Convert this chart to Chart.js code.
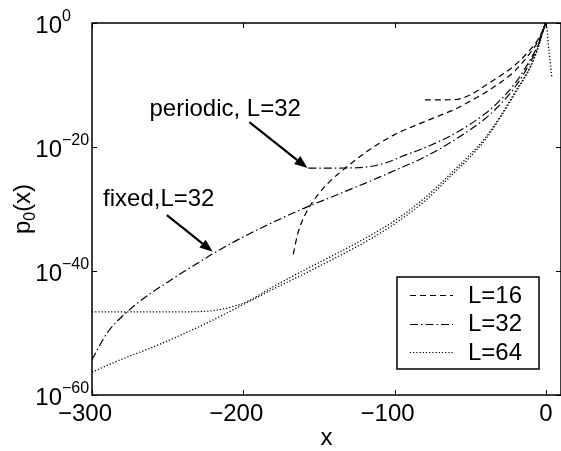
<!DOCTYPE html>
<html>
<head>
<meta charset="utf-8">
<script src="https://cdn.jsdelivr.net/npm/chart.js@4/dist/chart.umd.min.js"></script>
<style>
  body { margin: 0; background: #fff; }
  #wrap { width: 561px; height: 451px; }
</style>
</head>
<body>
<div id="wrap"><canvas id="myChart"></canvas></div>
<script>
// axis ticks
var xTicks = [-300, -200, -100, 0];
var yTickExps = [0, -20, -40, -60];
var legendLabels = ['L=16', 'L=32', 'L=64'];

// curves: x and log10 p0(x)
var fixed16X = [-167, -164, -161, -158, -154, -150, -145, -140, -135, -130, -120, -110, -100, -90, -80, -70, -60, -50, -40, -30, -20, -10, -5, 0];
var fixed16Log = [-37.3, -34.0, -31.9, -30.4, -28.8, -27.5, -26.1, -24.9, -23.9, -22.9, -21.0, -19.4, -18.0, -16.9, -15.9, -14.9, -13.9, -12.6, -11.2, -9.6, -7.6, -4.7, -2.9, 0];

var periodic16X = [-80, -70, -60, -55, -50, -45, -40, -30, -20, -10, -5, 0];
var periodic16Log = [-12.4, -12.4, -12.35, -12.1, -11.6, -10.9, -10.1, -8.5, -6.7, -4.2, -2.6, 0];

var fixed32X = [-300, -290, -280, -270, -260, -250, -240, -230, -220, -200, -180, -160, -140, -120, -100, -80, -60, -40, -30, -20, -10, -5, 0];
var fixed32Log = [-54.3, -50.0, -47.3, -45.2, -43.4, -41.8, -40.2, -38.7, -37.2, -34.5, -32.1, -29.9, -27.9, -25.9, -23.8, -21.6, -18.8, -15.4, -13.1, -10.2, -6.2, -3.6, 0];

var periodic32X = [-157, -140, -125, -115, -105, -95, -85, -75, -60, -40, -30, -20, -10, -5, 0];
var periodic32Log = [-23.4, -23.4, -23.35, -23.1, -22.5, -21.5, -20.6, -19.6, -17.8, -14.6, -12.4, -9.6, -5.8, -3.4, 0];

var fixed64X = [-300, -280, -260, -240, -220, -200, -180, -160, -140, -120, -100, -80, -60, -50, -40, -30, -20, -10, -5, 0, 2, 4];
var fixed64Log = [-56.3, -54.2, -52.3, -50.2, -47.9, -45.4, -42.9, -40.5, -38.0, -35.4, -32.4, -28.7, -24.0, -21.6, -18.8, -15.2, -11.2, -7.0, -3.9, 0, -4.4, -8.9];

var periodic64X = [-300, -250, -225, -215, -205, -198, -180, -160, -140, -120, -100, -80, -60, -50, -40, -30, -20, -10, -5, 0];
var periodic64Log = [-46.6, -46.6, -46.5, -46.2, -45.6, -45.0, -42.5, -39.9, -37.4, -34.8, -31.9, -28.2, -23.6, -21.2, -18.5, -15.0, -11.0, -6.9, -3.8, 0];

var FONT = '"Liberation Sans", Arial, Helvetica, sans-serif';
var dashStyles = [[6, 4], [8, 3, 1.5, 3], [1.2, 2]];
var lineWidths = [1.2, 1.2, 1.3];

function toPoints(xs, logs) {
    return xs.map(function (x, i) { return { x: x, y: Math.pow(10, logs[i]) }; });
}

function line(label, xs, logs, style) {
    return {
        label: label,
        data: toPoints(xs, logs),
        borderColor: '#000',
        borderWidth: lineWidths[style],
        borderDash: dashStyles[style],
        pointRadius: 0,
        fill: false,
        cubicInterpolationMode: 'monotone'
    };
}

// annotation: text anchor, arrow tail, arrow tip (data coords, log10 for y)
var notes = [
    { text: 'periodic, L=32', tx: -262, ty: -14.0, ax: -196, ay: -16.0, bx: -157.6, by: -23.4 },
    { text: 'fixed,L=32', tx: -292.7, ty: -28.5, ax: -250.5, ay: -31.0, bx: -220.2, by: -36.9 }
];

var decor = {
    id: 'decor',
    afterDraw: function (chart) {
        var ctx = chart.ctx, a = chart.chartArea;
        var xs = chart.scales.x, ys = chart.scales.y;
        ctx.save();
        ctx.strokeStyle = '#000';
        ctx.fillStyle = '#000';

        // frame
        ctx.lineWidth = 1.5;
        ctx.strokeRect(a.left, a.top, a.right - a.left, a.bottom - a.top);

        // ticks
        ctx.lineWidth = 1;
        ctx.beginPath();
        xTicks.forEach(function (v) {
            var px = Math.round(xs.getPixelForValue(v)) + 0.5;
            ctx.moveTo(px, a.bottom); ctx.lineTo(px, a.bottom - 5);
            ctx.moveTo(px, a.top); ctx.lineTo(px, a.top + 5);
        });
        yTickExps.forEach(function (e) {
            var py = Math.round(ys.getPixelForValue(Math.pow(10, e))) + 0.5;
            ctx.moveTo(a.left, py); ctx.lineTo(a.left + 5, py);
            ctx.moveTo(a.right, py); ctx.lineTo(a.right - 5, py);
        });
        ctx.stroke();

        // x tick labels: digits centred on tick, minus hangs left
        ctx.font = '24px ' + FONT;
        ctx.textBaseline = 'alphabetic';
        ctx.textAlign = 'right';
        xTicks.forEach(function (v) {
            var px = xs.getPixelForValue(v);
            var digits = String(Math.abs(v));
            var s = (v < 0 ? '\u2212' : '') + digits;
            ctx.fillText(s, px + ctx.measureText(digits).width / 2, a.bottom + 26);
        });

        // y tick labels 10^e
        yTickExps.forEach(function (e) {
            var py = ys.getPixelForValue(Math.pow(10, e));
            ctx.font = '24px ' + FONT;
            ctx.textAlign = 'right';
            ctx.fillText('10', a.left - 30, py + 10);
            ctx.font = '16px ' + FONT;
            ctx.textAlign = 'left';
            ctx.fillText(e === 0 ? '0' : '\u2212' + Math.abs(e), a.left - 30, py - 2);
        });

        // axis titles
        ctx.font = '24px ' + FONT;
        ctx.textAlign = 'center';
        ctx.fillText('x', (a.left + a.right) / 2, 445);
        ctx.save();
        ctx.translate(30, (a.top + a.bottom) / 2);
        ctx.rotate(-Math.PI / 2);
        ctx.textAlign = 'left';
        var w1 = ctx.measureText('p').width;
        ctx.font = '16px ' + FONT;
        var w2 = ctx.measureText('0').width;
        ctx.font = '24px ' + FONT;
        var w3 = ctx.measureText('(x)').width;
        var x0 = -(w1 + w2 + w3) / 2;
        ctx.fillText('p', x0, 0);
        ctx.font = '16px ' + FONT;
        ctx.fillText('0', x0 + w1, 5);
        ctx.font = '24px ' + FONT;
        ctx.fillText('(x)', x0 + w1 + w2, 0);
        ctx.restore();

        // annotations with arrows
        notes.forEach(function (n) {
            var tx = xs.getPixelForValue(n.tx), ty = ys.getPixelForValue(Math.pow(10, n.ty));
            var ax = xs.getPixelForValue(n.ax), ay = ys.getPixelForValue(Math.pow(10, n.ay));
            var bx = xs.getPixelForValue(n.bx), by = ys.getPixelForValue(Math.pow(10, n.by));
            ctx.font = '24px ' + FONT;
            ctx.textAlign = 'left';
            ctx.textBaseline = 'middle';
            ctx.fillText(n.text, tx, ty);
            var ang = Math.atan2(by - ay, bx - ax);
            var hl = 13, hw = 5;
            var cx = bx - hl * Math.cos(ang), cy = by - hl * Math.sin(ang);
            ctx.lineWidth = 2.2;
            ctx.beginPath();
            ctx.moveTo(ax, ay); ctx.lineTo(cx, cy);
            ctx.stroke();
            ctx.beginPath();
            ctx.moveTo(bx, by);
            ctx.lineTo(cx + hw * Math.sin(ang), cy - hw * Math.cos(ang));
            ctx.lineTo(cx - hw * Math.sin(ang), cy + hw * Math.cos(ang));
            ctx.closePath();
            ctx.fill();
        });

        // legend box
        var bx1 = 397, by1 = 277, bx2 = 539, by2 = 369;
        ctx.fillStyle = '#fff';
        ctx.fillRect(bx1, by1, bx2 - bx1, by2 - by1);
        ctx.lineWidth = 1.5;
        ctx.strokeRect(bx1, by1, bx2 - bx1, by2 - by1);
        ctx.fillStyle = '#000';
        ctx.textBaseline = 'middle';
        legendLabels.forEach(function (lab, i) {
            var y = by1 + 18 + i * 28.5;
            ctx.lineWidth = 1;
            ctx.setLineDash(dashStyles[i]);
            ctx.beginPath();
            ctx.moveTo(410, Math.round(y) + 0.5); ctx.lineTo(453, Math.round(y) + 0.5);
            ctx.stroke();
            ctx.setLineDash([]);
            ctx.font = '24px ' + FONT;
            ctx.textAlign = 'left';
            ctx.fillText(lab, 468, y + 1);
        });
        ctx.restore();
    }
};

var ctx = document.getElementById('myChart').getContext('2d');
var chart = new Chart(ctx, {
    type: 'line',
    data: {
        datasets: [
            line('fixed, L=16', fixed16X, fixed16Log, 0),
            line('periodic, L=16', periodic16X, periodic16Log, 0),
            line('fixed, L=32', fixed32X, fixed32Log, 1),
            line('periodic, L=32', periodic32X, periodic32Log, 1),
            line('fixed, L=64', fixed64X, fixed64Log, 2),
            line('periodic, L=64', periodic64X, periodic64Log, 2)
        ]
    },
    options: {
        responsive: true,
        maintainAspectRatio: false,
        animation: false,
        layout: { padding: { left: 0, top: 23, right: -1, bottom: 0 } },
        plugins: { legend: { display: false }, tooltip: { enabled: false } },
        scales: {
            x: {
                type: 'linear', min: -300, max: 10,
                grid: { display: false }, border: { display: false },
                ticks: { display: false },
                afterFit: function (s) { s.height = 56; }
            },
            y: {
                type: 'logarithmic', min: 1e-60, max: 1,
                grid: { display: false }, border: { display: false },
                ticks: { display: false },
                afterBuildTicks: function (s) {
                    s.ticks = yTickExps.map(function (e) { return { value: Math.pow(10, e) }; });
                },
                afterFit: function (s) { s.width = 92; }
            }
        }
    },
    plugins: [decor]
});
</script>
</body>
</html>
